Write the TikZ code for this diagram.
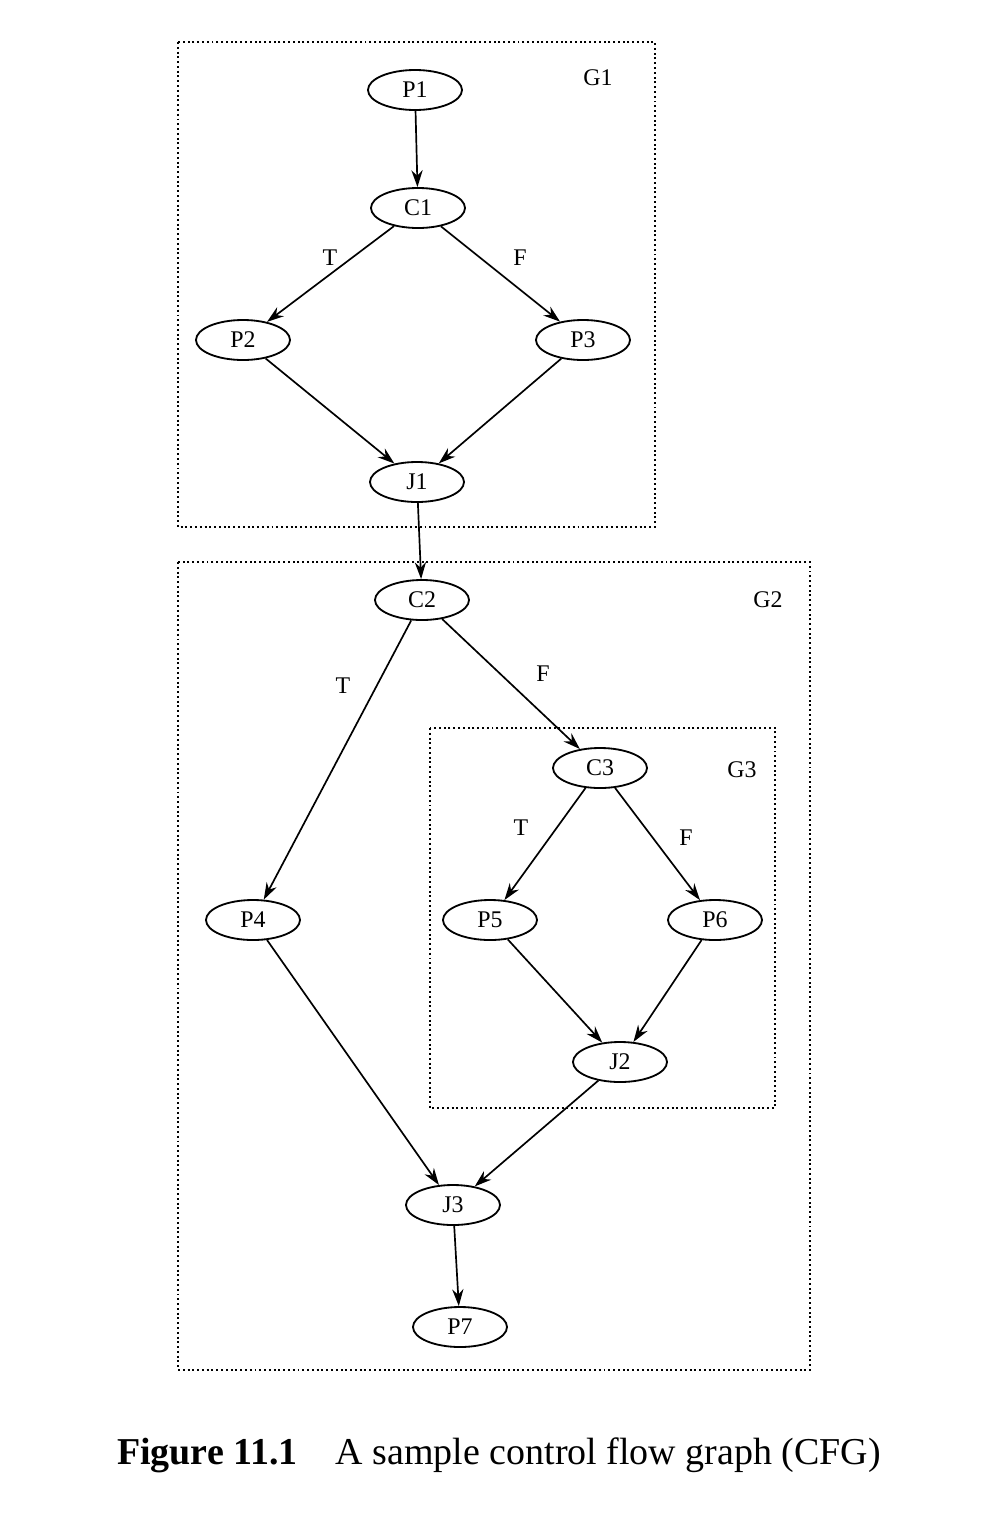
\documentclass[tikz,border=0pt]{standalone}
\usepackage{fontspec}
\setmainfont{Liberation Serif}
\usetikzlibrary{shapes.geometric,arrows.meta}
\begin{document}
\begin{tikzpicture}[x=0.025cm,y=-0.025cm,
  nd/.style={ellipse,draw,line width=1.3pt,minimum width=2.35cm,minimum height=1cm,inner sep=0pt,font=\fontsize{17}{17}\selectfont},
  ar/.style={-{Stealth[length=12pt,width=8pt]},line width=1.2pt},
  box/.style={draw,dotted,line width=1.4pt},
  lb/.style={font=\fontsize{17}{17}\selectfont}]
\useasboundingbox (0,0) rectangle (1002,1534);
\draw[box] (178,42) rectangle (655,527);
\draw[box] (178,562) rectangle (810,1370);
\draw[box] (430,728) rectangle (775,1108);
\node[lb] (g1) at (598,78) {G1};
\node[lb] (g2) at (768,600) {G2};
\node[lb] (g3) at (742,770) {G3};
\node[nd] (P1) at (415,90) {P1};
\node[nd] (C1) at (418,208) {C1};
\node[nd] (P2) at (243,340) {P2};
\node[nd] (P3) at (583,340) {P3};
\node[nd] (J1) at (417,482) {J1};
\node[nd] (C2) at (422,600) {C2};
\node[nd] (C3) at (600,768) {C3};
\node[nd] (P4) at (253,920) {P4};
\node[nd] (P5) at (490,920) {P5};
\node[nd] (P6) at (715,920) {P6};
\node[nd] (J2) at (620,1062) {J2};
\node[nd] (J3) at (453,1205) {J3};
\node[nd] (P7) at (460,1327) {P7};
\draw[ar] (P1) -- (C1);
\draw[ar] (C1) -- (P2);
\draw[ar] (C1) -- (P3);
\draw[ar] (P2) -- (J1);
\draw[ar] (P3) -- (J1);
\draw[ar] (J1) -- (C2);
\draw[ar] (C2) -- (P4);
\draw[ar] (C2) -- (C3);
\draw[ar] (C3) -- (P5);
\draw[ar] (C3) -- (P6);
\draw[ar] (P5) -- (J2);
\draw[ar] (P6) -- (J2);
\draw[ar] (P4) -- (J3);
\draw[ar] (J2) -- (J3);
\draw[ar] (J3) -- (P7);
\node[lb] (t1) at (330,258) {T};
\node[lb] (f1) at (520,258) {F};
\node[lb] (t2) at (343,686) {T};
\node[lb] (f2) at (543,674) {F};
\node[lb] (t3) at (521,828) {T};
\node[lb] (f3) at (686,838) {F};
\node[font=\fontsize{27}{27}\selectfont] (cap) at (499,1455) {\textbf{Figure 11.1}\quad A sample control flow graph (CFG)};
\end{tikzpicture}
\end{document}
